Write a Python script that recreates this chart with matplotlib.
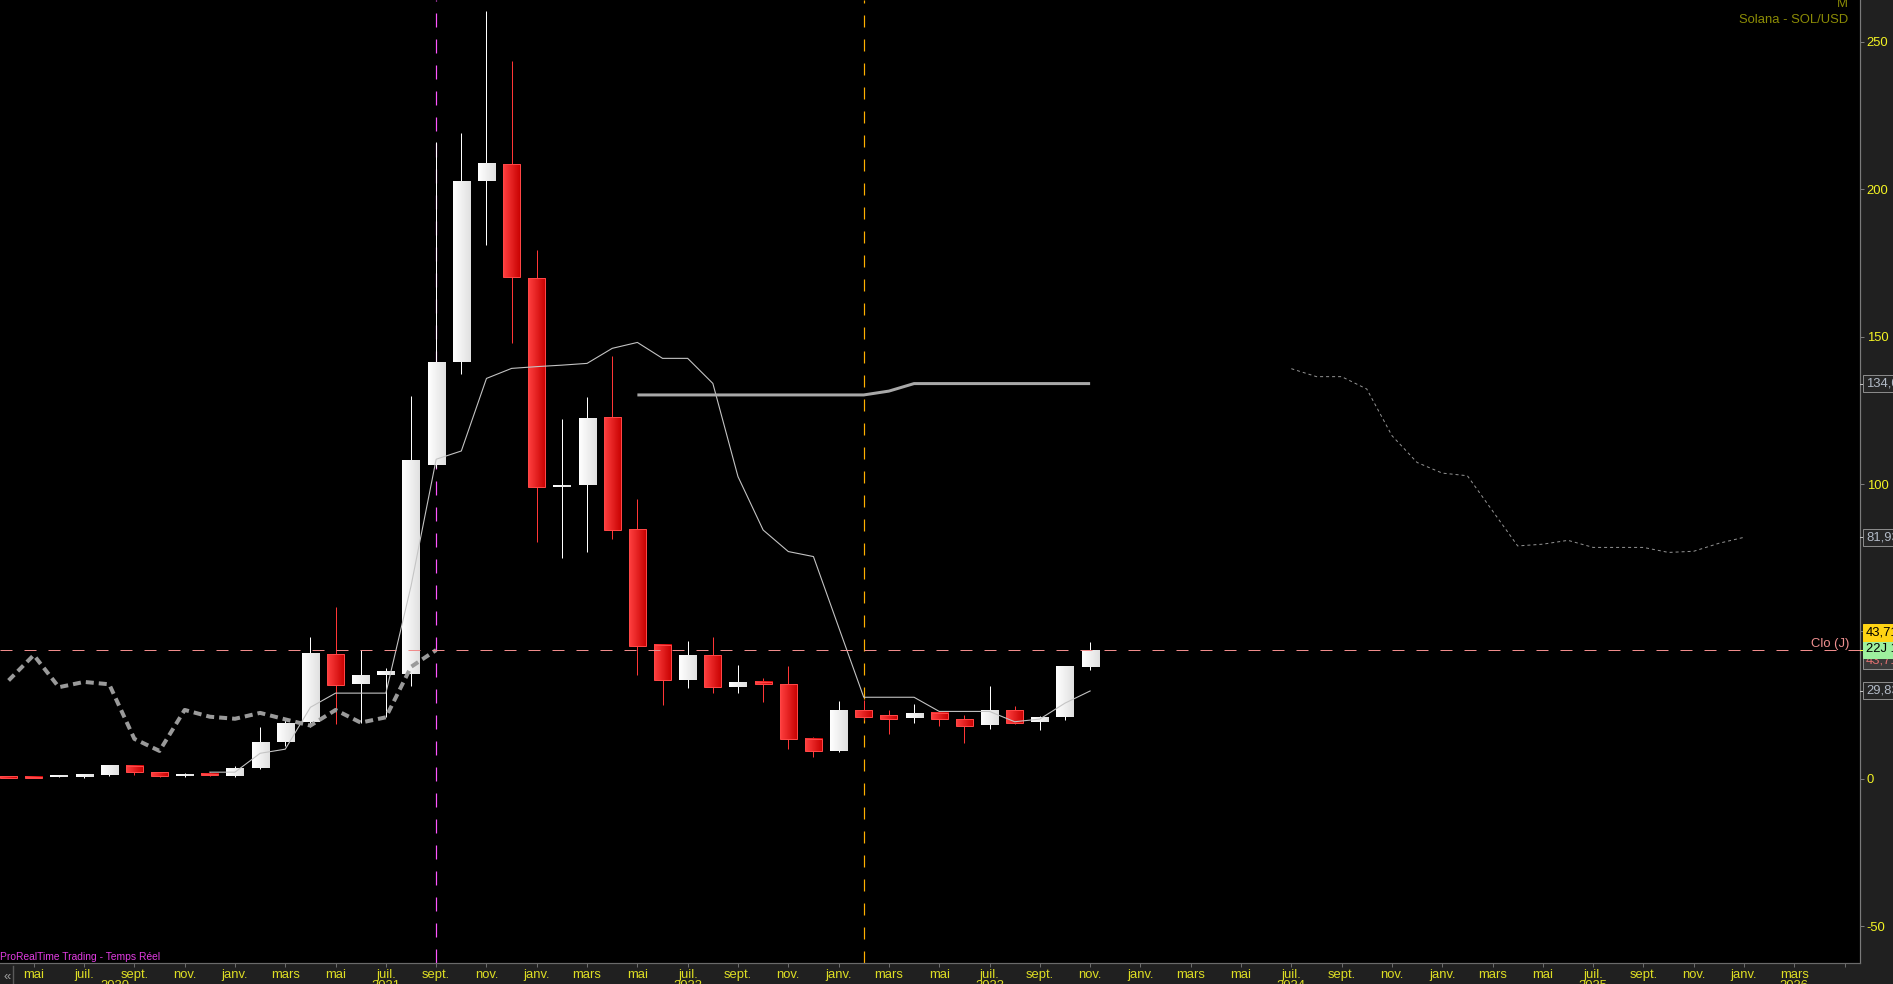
import numpy as np
import matplotlib
matplotlib.use("Agg")
import matplotlib.pyplot as plt
import matplotlib.transforms as mtransforms
from matplotlib import font_manager
from matplotlib.patches import Rectangle

# ---------------- fonts ----------------
_names = {f.name for f in font_manager.fontManager.ttflist}
if "Liberation Sans Narrow" in _names:
    FONT, FS, FS_SMALL = "Liberation Sans Narrow", 11.0, 8.9
else:
    FONT, FS, FS_SMALL = "Liberation Sans", 9.4, 7.4
plt.rcParams["font.family"] = [FONT, "DejaVu Sans"]
plt.rcParams["lines.scale_dashes"] = False

# ---------------- data (monthly SOL/USD, from avr. 2020) ----------------
start_year, start_month = 2020, 4
opens = [0.75, 0.6, 0.6, 0.6, 1.2, 4.4, 2.3, 1.2, 1.8, 1.1, 3.8, 12.6, 19.2, 42.4,
         32.3, 35.3, 35.6, 106.4, 141.5, 202.8, 208.4, 169.7, 99.1, 99.7, 122.6,
         84.6, 45.3, 33.7, 41.9, 31.3, 32.9, 32.2, 13.6, 9.5, 23.4, 21.6, 20.8,
         22.3, 20.3, 18.4, 23.4, 19.4, 21.0, 38.0]
highs = [1.0, 0.8, 1.3, 1.7, 4.6, 4.6, 2.5, 2.1, 2.4, 4.4, 17.6, 20.7, 48.0, 58.3,
         43.7, 37.6, 129.8, 216.0, 219.0, 260.3, 243.4, 179.3, 122.0, 129.5, 143.4,
         94.9, 45.6, 46.8, 48.1, 38.6, 34.2, 38.3, 14.2, 26.4, 26.8, 23.4, 25.4,
         23.2, 21.7, 31.5, 24.7, 21.4, 38.3, 46.4]
lows = [0.5, 0.4, 0.5, 0.3, 0.9, 1.5, 0.6, 0.8, 0.9, 0.8, 3.5, 11.2, 17.7, 18.5,
        19.1, 21.1, 31.5, 105.5, 137.4, 181.1, 147.9, 80.4, 75.0, 77.1, 81.5,
        35.4, 25.2, 31.0, 29.3, 29.3, 26.2, 10.3, 7.5, 9.0, 20.0, 15.3, 19.1,
        18.0, 12.3, 17.1, 18.6, 16.6, 20.0, 37.0]
closes = [0.55, 0.45, 1.0, 1.4, 4.4, 2.2, 1.0, 1.5, 1.2, 3.7, 12.6, 19.0, 42.4, 32.0,
          35.3, 36.4, 108.1, 141.0, 202.7, 208.8, 170.1, 99.1, 99.5, 122.4, 84.5,
          45.2, 33.4, 42.0, 31.1, 32.9, 32.1, 13.6, 9.5, 23.4, 21.1, 20.4, 22.4,
          20.2, 18.1, 23.4, 19.1, 20.9, 38.0, 43.71]

# Ichimoku lines as drawn
tenkan_start = 8
tenkan = [2.3, 2.3, 8.7, 10.1, 24.3, 29.1, 29.1, 29.1, 65.4, 108.4, 111.2, 135.8,
          139.2, 139.8, 140.3, 140.9, 146.0, 148.0, 142.6, 142.6, 134.1, 102.5,
          84.4, 77.1, 75.4, 51.5, 27.7, 27.7, 27.7, 22.9, 22.9, 22.9, 19.4, 20.3,
          25.7, 29.83]
kijun_start = 25
kijun = [130.2, 130.2, 130.2, 130.2, 130.2, 130.2, 130.2, 130.2, 130.2, 130.2,
         131.5, 134.05, 134.05, 134.05, 134.05, 134.05, 134.05, 134.05, 134.05]
senkou_start = 51
senkou_a = [139.1, 136.4, 136.4, 132.2, 116.4, 107.3, 103.7, 102.8, 90.9, 79.0,
            79.6, 80.9, 78.5, 78.5, 78.5, 76.8, 77.2, 79.9, 81.93]
chikou_shift = 26

month_names = {1: "janv.", 3: "mars", 5: "mai", 7: "juil.", 9: "sept.", 11: "nov."}
year_labels = ["2020", "2021", "2022", "2023", "2024", "2025", "2026"]
year_label_pos = [4.23, 15, 27, 39, 51, 63, 71]
y_ticks = [-50, 0, 50, 100, 150, 200, 250]
y_tick_labels = ["-50", "0", "", "100", "150", "200", "250"]

title_text = "Solana - SOL/USD"
period_text = "M"
source_text = "ProRealTime Trading - Temps Réel"
close_label = "Clo (J)"
date_box = "22J 1"

n = len(closes)
assert len(opens) == n and len(highs) == n and len(lows) == n

# ---------------- figure ----------------
W, H = 1893, 984
PX = 0.72  # points per pixel
fig = plt.figure(figsize=(W / 100, H / 100), dpi=100, facecolor="#202020")
ax = fig.add_axes([0, 21 / H, 1860 / W, 963 / H])
ax.set_facecolor("black")

bw = 0.68
white_grad = np.linspace([1.0, 1.0, 1.0], [0.88, 0.88, 0.88], 32)[None, :, :]
red_grad = np.linspace([1.0, 0.25, 0.25], [0.78, 0.0, 0.0], 32)[None, :, :]

for k in range(n):
    o, h, l, c = opens[k], highs[k], lows[k], closes[k]
    up = c >= o
    ax.vlines(k, l, h, color="#ffffff" if up else "#ff3636", lw=1.0 * PX, zorder=2)
    lo, hi = min(o, c), max(o, c)
    if hi - lo < 0.6:
        m = (hi + lo) / 2
        lo, hi = m - 0.3, m + 0.3
    ax.imshow(white_grad if up else red_grad, extent=(k - bw / 2, k + bw / 2, lo, hi),
              aspect="auto", interpolation="bilinear", zorder=3)
    if not up:
        ax.add_patch(Rectangle((k - bw / 2, lo), bw, hi - lo, fill=False,
                               ec="#ff4646", lw=1.0 * PX, zorder=4))

# Ichimoku
ax.plot(np.arange(tenkan_start, tenkan_start + len(tenkan)), tenkan,
        color="#c4c4c4", lw=1.1 * PX, zorder=6)
ax.plot(np.arange(kijun_start, kijun_start + len(kijun)), kijun,
        color="#a8a8a8", lw=3.0 * PX, zorder=6, solid_capstyle="butt")
ax.plot(np.arange(senkou_start, senkou_start + len(senkou_a)), senkou_a,
        color="#929292", lw=1.0 * PX, dashes=(3 * PX, 3 * PX), zorder=6)
chikou = closes[chikou_shift:]
ax.plot(np.arange(len(chikou)), chikou, color="#9a9a9a", lw=4.0 * PX,
        dashes=(8 * PX, 5 * PX), dash_capstyle="butt", zorder=6)

# reference lines (behind the candles)
ax.axvline(n - 1 - chikou_shift, color="#ff55ff", lw=1.2 * PX,
           dashes=(14 * PX, 12 * PX), zorder=1)
ax.axvline(n - 1 - 9, color="#ffb000", lw=1.2 * PX,
           dashes=(12 * PX, 12 * PX), zorder=1)
ax.axhline(closes[-1], color="#f08c8c", lw=1.0 * PX,
           dashes=(12 * PX, 12 * PX), zorder=8)

ax.set_xlim(-0.342, 73.61)
ax.set_ylim(-62.4, 264.1)

# x axis
xt = list(range(1, 74, 2))
xl = []
for k in xt:
    mnum = (start_month - 1 + k) % 12 + 1
    xl.append(month_names[mnum] if k < 72 else "")
ax.set_xticks(xt)
ax.set_xticklabels(xl)
ax.tick_params(axis="x", direction="out", length=4 * PX, width=1 * PX,
               color="#6c6c6c", labelcolor="#dede24", labelsize=FS, pad=1.2)
for yr, pos in zip(year_labels, year_label_pos):
    ax.annotate(yr, xy=(pos, 0), xycoords=("data", "axes fraction"),
                xytext=(0, -17), textcoords="offset pixels", ha="center", va="top",
                color="#dede24", fontsize=FS, annotation_clip=False)

# y axis (right)
ax.yaxis.tick_right()
ax.set_yticks(y_ticks)
ax.set_yticklabels(y_tick_labels)
ax.tick_params(axis="y", direction="out", length=4 * PX, width=1 * PX,
               color="#7c7c7c", labelcolor="#f4f424", labelsize=FS, pad=2)

for s in ["left", "top"]:
    ax.spines[s].set_visible(False)
ax.spines["bottom"].set_color("#6a6a6a")
ax.spines["bottom"].set_linewidth(1.2 * PX)
ax.spines["right"].set_color("#7a7a7a")
ax.spines["right"].set_linewidth(1.2 * PX)

# texts in plot
ax.text(0.9935, 1.0025, period_text, transform=ax.transAxes, ha="right", va="top",
        color="#8c8c06", fontsize=FS)
ax.text(0.9935, 0.979, title_text, transform=ax.transAxes, ha="right", va="center",
        color="#8c8c06", fontsize=FS)
ax.annotate(close_label, xy=(1, closes[-1]), xycoords=("axes fraction", "data"),
            xytext=(-11, 6), textcoords="offset pixels", ha="right", va="center",
            color="#f09090", fontsize=FS)
fig.text(0.0, 27 / H, source_text, ha="left", va="center", color="#e23ce2",
         fontsize=FS_SMALL)

# value boxes on the right axis
ident = mtransforms.IdentityTransform()


def ypix(v):
    return ax.transData.transform((0, v))[1]


def vbox(yc, text, fc, tc, ec=None, z=10):
    fig.add_artist(Rectangle((1863, yc - 8.5), 40, 17, transform=ident, fc=fc,
                             ec=ec if ec else fc, lw=1 * PX, zorder=z))
    fig.add_artist(plt.Text(1866 / W, yc / H, text, ha="left", va="center",
                            color=tc, fontsize=FS, zorder=z + 0.5))


def vtick(yc, col):
    fig.add_artist(plt.Line2D([1860, 1864], [yc, yc], transform=ident, color=col,
                              lw=1 * PX, zorder=9))


for val, txt in [(kijun[-1], "134,05"), (senkou_a[-1], "81,93"), (tenkan[-1], "29,83")]:
    yc = ypix(val)
    vtick(yc, "#c0c0c0")
    vbox(yc, txt, "#262626", "#b2bac6", ec="#8a8a8a")

yc = ypix(closes[-1])
vtick(yc, "#ffff30")
vbox(yc - 10, "43,71", "#3a3a3a", "#e07070", ec="#8a8a8a", z=10)
vbox(yc + 1, date_box, "#9ef09e", "#000000", z=11)
vbox(yc + 18, "43,71", "#ffd414", "#000000", z=12)

# bottom-left navigation button
fig.add_artist(plt.Line2D([13, 13], [0, 18], transform=ident, color="#5a5a5a", lw=1))
fig.text(4 / W, 7 / H, "«", ha="left", va="center", color="#a0a0a0", fontsize=FS)

fig.savefig("out.png", dpi=100, facecolor=fig.get_facecolor())
